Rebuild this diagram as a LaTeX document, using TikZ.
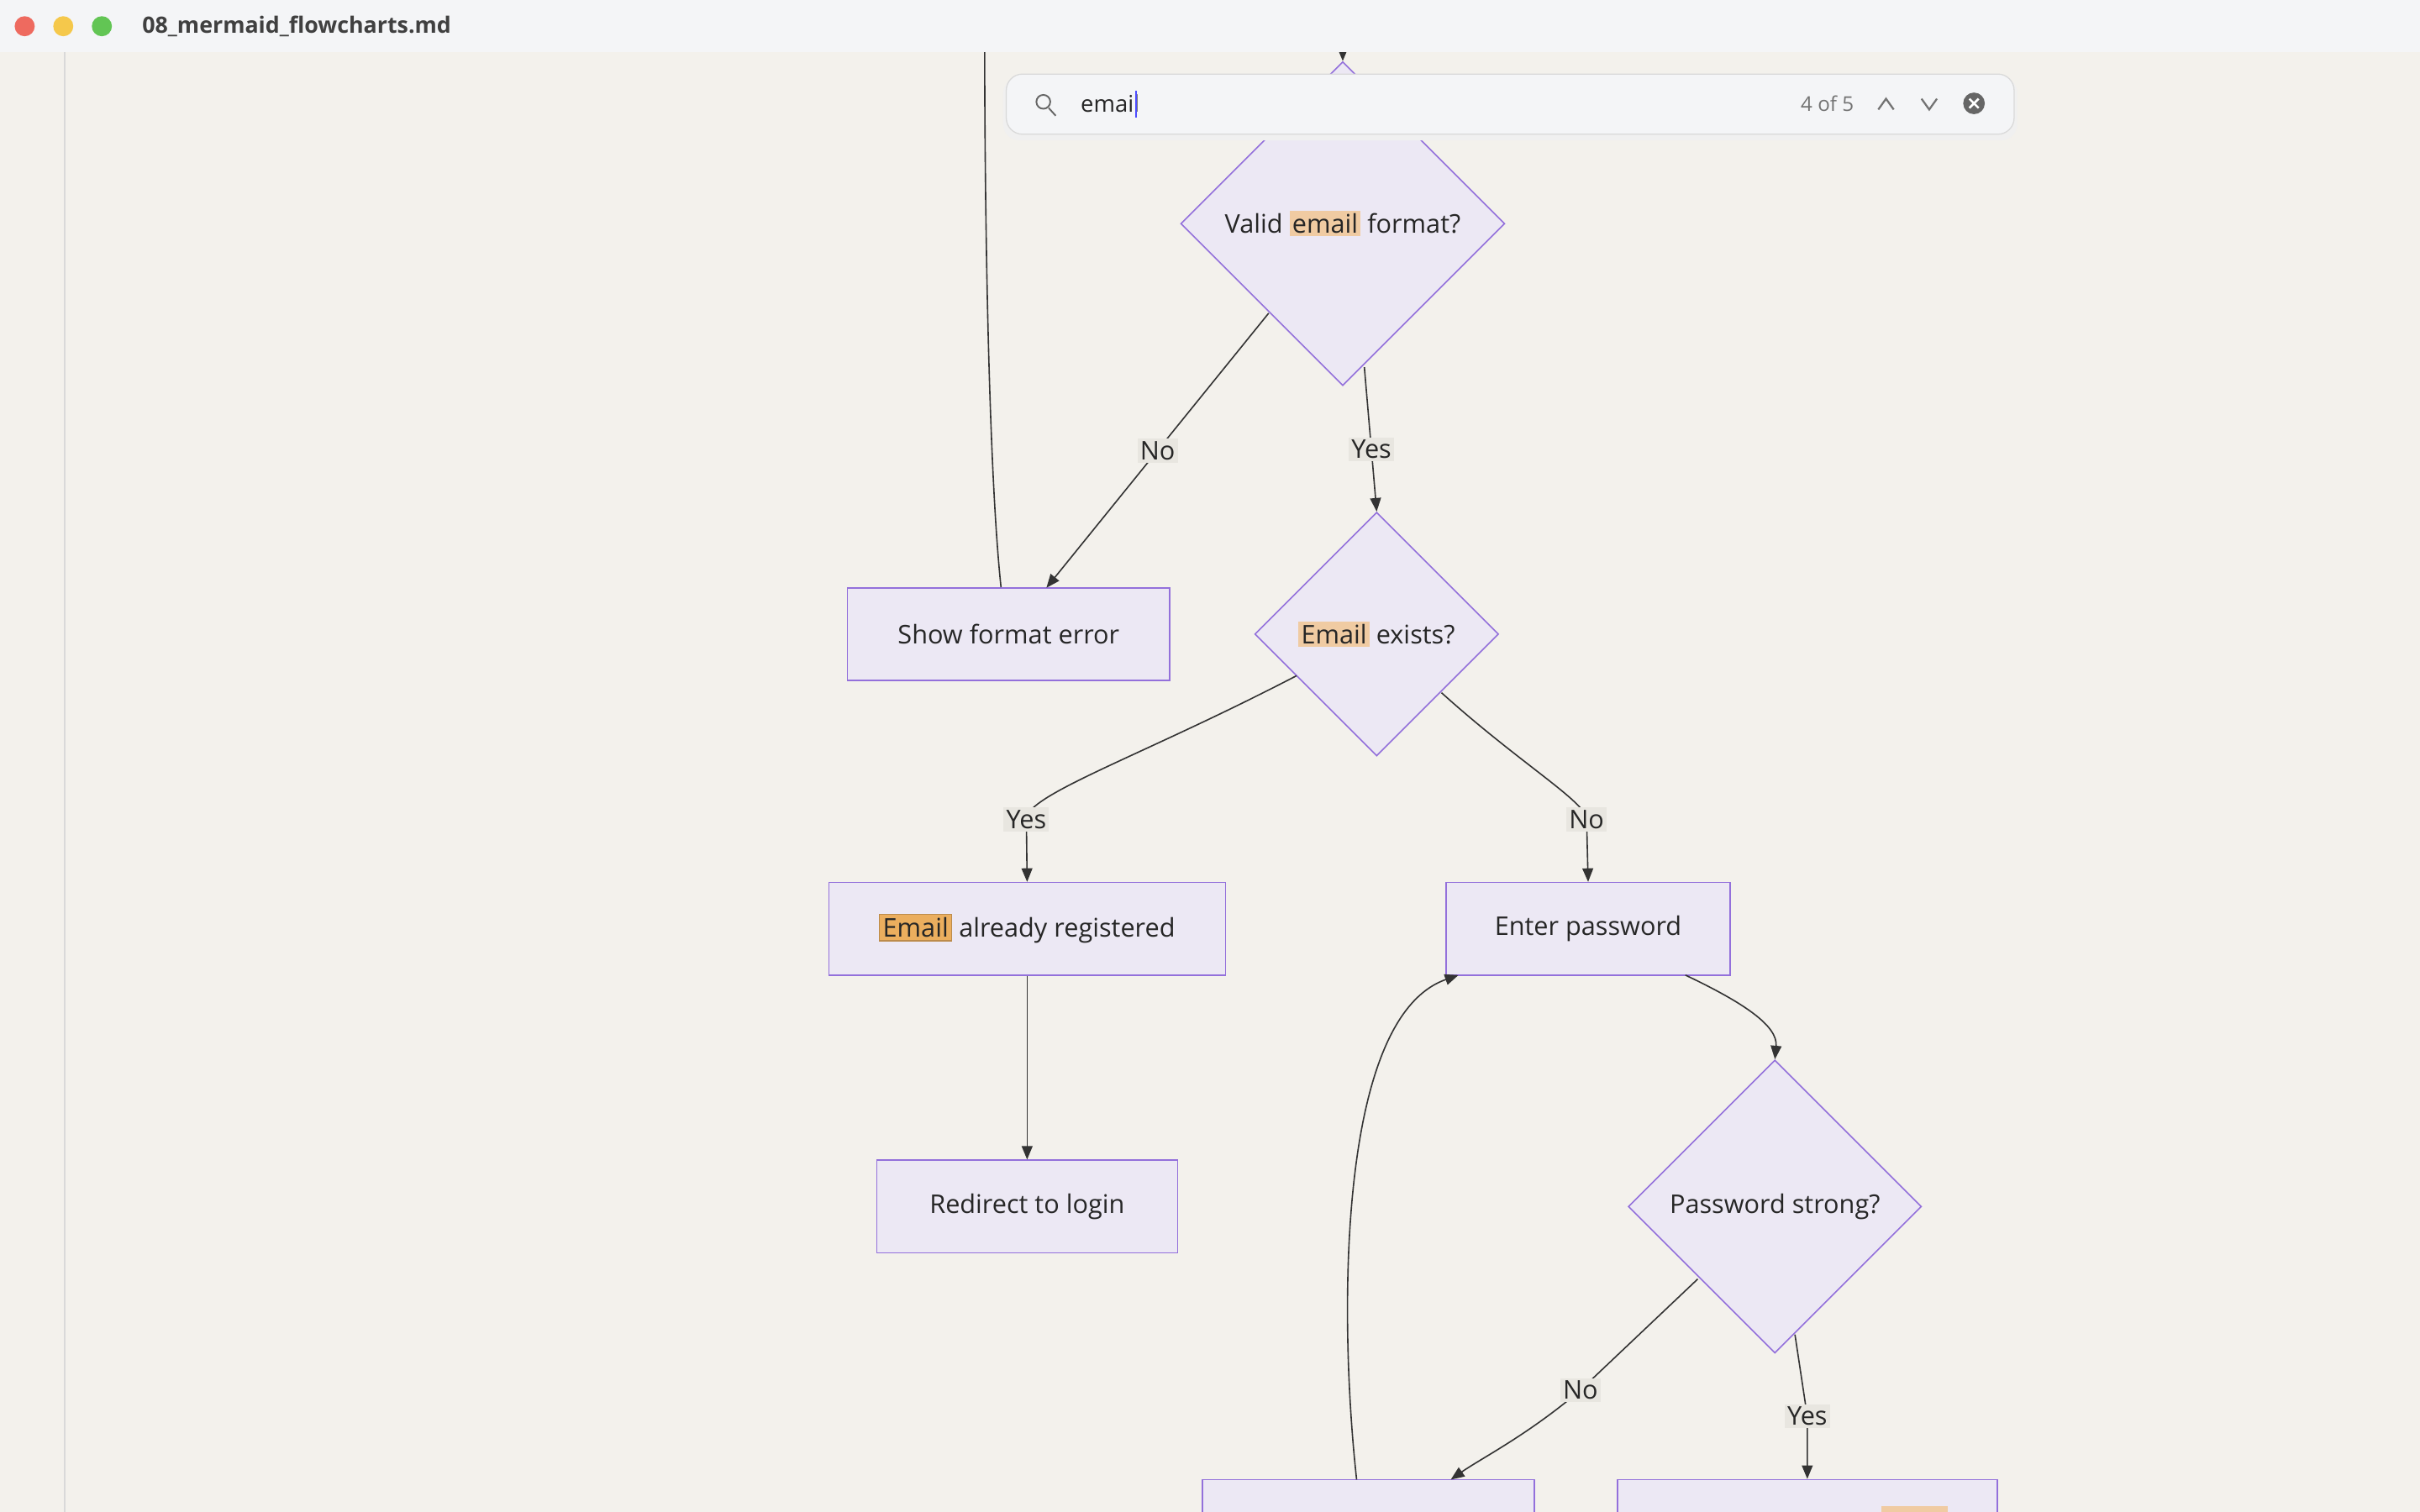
\documentclass[tikz,border=0pt]{standalone}
\usepackage{fontspec}
\setmainfont{Open Sans}
\usetikzlibrary{shapes.geometric,arrows.meta,positioning}
\definecolor{pagebg}{HTML}{F3F1EC}
\definecolor{barbg}{HTML}{F4F5F7}
\definecolor{nodefill}{HTML}{ECE8F4}
\definecolor{nodeline}{HTML}{9370DB}
\definecolor{edgeline}{HTML}{333333}
\definecolor{lblbg}{HTML}{E8E6E0}
\definecolor{hilite}{HTML}{F0CBA2}
\definecolor{hilitecur}{HTML}{EBAE5E}
\definecolor{tlred}{HTML}{EE6A5F}
\definecolor{tlyellow}{HTML}{F5C84B}
\definecolor{tlgreen}{HTML}{62C554}
\tikzset{
  box/.style={draw=nodeline,fill=nodefill,line width=0.5pt,font=\fontsize{9.5}{11}\selectfont,text=black!85},
  decide/.style={diamond,aspect=1,draw=nodeline,fill=nodefill,line width=0.5pt,inner sep=0pt,font=\fontsize{9.5}{11}\selectfont,text=black!85},
  flow/.style={-{Triangle[length=5pt,width=4pt]},draw=edgeline,line width=0.5pt},
  lbl/.style={fill=lblbg,inner sep=1pt,font=\fontsize{9.5}{11}\selectfont,text=black!85},
}
\newcommand*{\hl}[1]{\setlength{\fboxsep}{1pt}\colorbox{hilite}{#1}}
\newcommand*{\hlcur}[1]{\setlength{\fboxsep}{1pt}\fcolorbox{hilitecur!80!black}{hilitecur}{#1}}
\begin{document}
\begin{tikzpicture}[x=0.02cm,y=-0.02cm]
\useasboundingbox (0,0) rectangle (1568,980);
\clip (0,0) rectangle (1568,980);
\fill[pagebg] (0,0) rectangle (1568,980);
\draw[black!15] (42,34) -- (42,980);

% nodes
\node[decide,minimum width=4.2cm,minimum height=4.2cm] (fmt) at (870,145) {Valid \hl{email} format?};
\node[decide,minimum width=3.16cm,minimum height=3.16cm] (exists) at (892,411) {\hl{Email} exists?};
\node[decide,minimum width=3.8cm,minimum height=3.8cm] (strong) at (1150,782) {Password strong?};
\node[box,minimum width=4.18cm,minimum height=1.2cm] (fmterr) at (653.5,411) {Show format error};
\node[box,minimum width=5.14cm,minimum height=1.2cm] (registered) at (665.5,602) {\hlcur{Email} already registered};
\node[box,minimum width=3.68cm,minimum height=1.2cm] (password) at (1029,602) {Enter password};
\node[box,minimum width=3.9cm,minimum height=1.2cm] (redirect) at (665.5,782) {Redirect to login};
\node[box,minimum width=4.3cm,minimum height=1.2cm] (weak) at (886.5,989) {};
\node[box,minimum width=4.92cm,minimum height=1.2cm] (created) at (1171,989) {};
\fill[hilite] (1219,976) rectangle (1262,990);

% free ends above
\coordinate (topin) at (870,30);
\coordinate (topback) at (638,30);

% connectors
\draw[flow] (topin) -- (fmt.north);
\draw[edgeline,line width=0.5pt] (fmterr.north west) ++(100,0) .. controls (640,300) and (638,120) .. (topback);
\draw[flow] (822,203) -- node[lbl,pos=0.5] {No} (678,381);
\draw[flow] (884,238) -- node[lbl,pos=0.57] {Yes} (exists.north);
\draw[flow] (840,438) .. controls (740,490) and (665,515) .. (665,531) node[lbl] {Yes} -- (registered.north);
\draw[flow] (934,449) .. controls (985,495) and (1028,520) .. (1028,531) node[lbl] {No} -- (password.north);
\draw[flow] (registered) -- (redirect);
\draw[flow] (1092,632) .. controls (1130,650) and (1152,665) .. (strong.north);
\draw[flow] (1100,829) -- (1024,901) node[lbl] {No} .. controls (990,930) and (960,945) .. (940,959);
\draw[flow] (1163,865) -- (1171,918) node[lbl] {Yes} -- (created.north);
\draw[flow] (879,959) .. controls (868,860) and (865,660) .. (945,632);

% title bar
\fill[barbg] (0,0) rectangle (1568,34);
\fill[tlred] (16,17) circle (6.5);
\fill[tlyellow] (41,17) circle (6.5);
\fill[tlgreen] (66,17) circle (6.5);
\node[anchor=west,font=\bfseries\fontsize{8.3}{10}\selectfont,text=black!75] (title) at (86,17) {08\_mermaid\_flowcharts.md};

% search bar
\fill[black!6,rounded corners=6] (650,50) rectangle (1307,91);
\draw[black!15,fill=barbg,rounded corners=6] (652,48) rectangle (1305,87);
\draw[black!60,line width=0.6pt] (676,66) circle (4.5);
\draw[black!60,line width=0.6pt] (679.5,70) -- (684,75);
\node[anchor=west,font=\fontsize{8.5}{10}\selectfont,text=black!85] (query) at (694,67) {email};
\draw[blue!70,line width=0.8pt] (736,59) -- (736,76);
\node[font=\fontsize{7.5}{9}\selectfont,text=black!55] (count) at (1184,67) {4 of 5};
\draw[black!55,line width=0.7pt] (1217,71) -- (1222,64) -- (1227,71);
\draw[black!55,line width=0.7pt] (1245,64) -- (1250,71) -- (1255,64);
\fill[black!60] (1279,67) circle (7);
\draw[white,line width=0.8pt] (1276,64) -- (1282,70) (1282,64) -- (1276,70);
\end{tikzpicture}
\end{document}
